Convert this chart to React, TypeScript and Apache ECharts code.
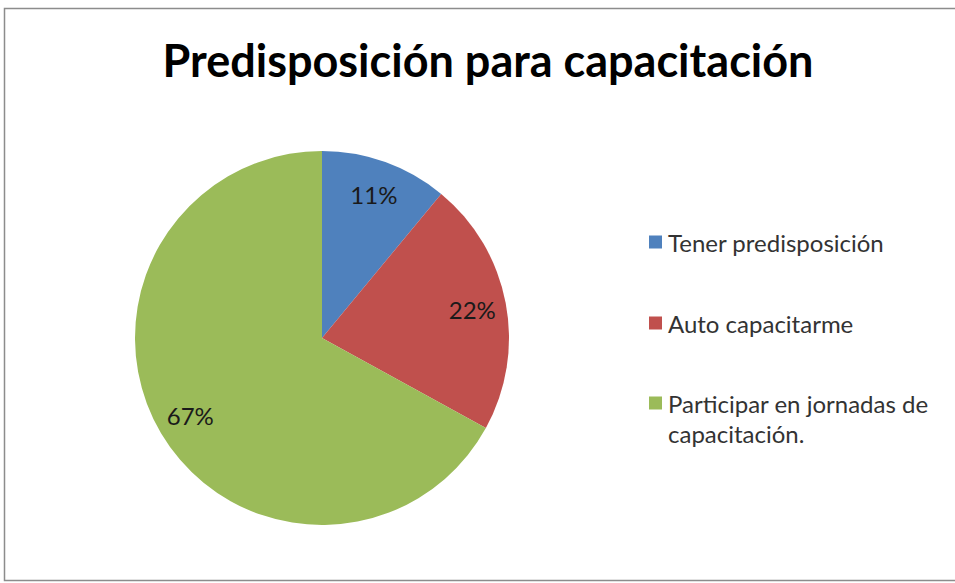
import React, { useEffect, useRef } from "react";
import * as echarts from "echarts";

const categories = [
  "Tener predisposición",
  "Auto capacitarme",
  "Participar en jornadas de\ncapacitación.",
];
const values = [11, 22, 67];
const colors = ["#4F81BD", "#C0504D", "#9BBB59"];
const titleText = "Predisposición para capacitación";

export default function App() {
  const ref = useRef<HTMLDivElement>(null);
  useEffect(() => {
    document.body.style.margin = "0";
    const chart = echarts.init(ref.current!, undefined, { renderer: "svg" });
    const data = categories.map((name, i) => ({
      name,
      value: values[i],
      itemStyle: { color: colors[i] },
    }));
    const legendBase = {
      orient: "vertical" as const,
      left: 649,
      padding: 0,
      itemWidth: 13,
      itemHeight: 13,
      itemGap: 10,
      icon: "rect",
      selectedMode: false,
      textStyle: {
        fontFamily: "Lato",
        fontSize: 24,
        color: "#333333",
        lineHeight: 30,
        padding: [0, 0, 0, 1],
      },
    };
    chart.setOption({
      animation: false,
      backgroundColor: "#ffffff",
      title: {
        text: titleText,
        left: 483,
        textAlign: "center",
        top: 32,
        textStyle: {
          fontFamily: "Lato",
          fontWeight: "bold",
          fontSize: 45,
          color: "#000000",
        },
      },
      legend: [
        { ...legendBase, top: 227, data: [categories[0]] },
        { ...legendBase, top: 308, data: [categories[1]] },
        {
          ...legendBase,
          top: 358,
          data: [categories[2]],
          formatter: (name: string) => "\n" + name,
        },
      ],
      graphic: [
        {
          type: "rect",
          shape: { x: 4.5, y: 8.5, width: 960, height: 572 },
          style: { fill: "none", stroke: "#8c8c8c", lineWidth: 1.5 },
          silent: true,
        },
      ],
      series: [
        {
          type: "pie",
          center: [322, 338],
          radius: [0, 187],
          startAngle: 90,
          clockwise: true,
          label: { show: false },
          labelLine: { show: false },
          data,
        },
        {
          type: "pie",
          center: [322, 338],
          radius: [0, 300],
          startAngle: 90,
          clockwise: true,
          silent: true,
          itemStyle: { color: "rgba(0,0,0,0)" },
          label: {
            show: true,
            position: "inside",
            formatter: "{c}%",
            fontFamily: "Lato",
            fontSize: 24,
            color: "#1a1a1a",
          },
          labelLine: { show: false },
          data: categories.map((name, i) => ({
            name,
            value: values[i],
            itemStyle: { color: "rgba(0,0,0,0)" },
          })),
        },
      ],
    });
    return () => chart.dispose();
  }, []);
  return <div ref={ref} style={{ width: 955, height: 583 }} />;
}
